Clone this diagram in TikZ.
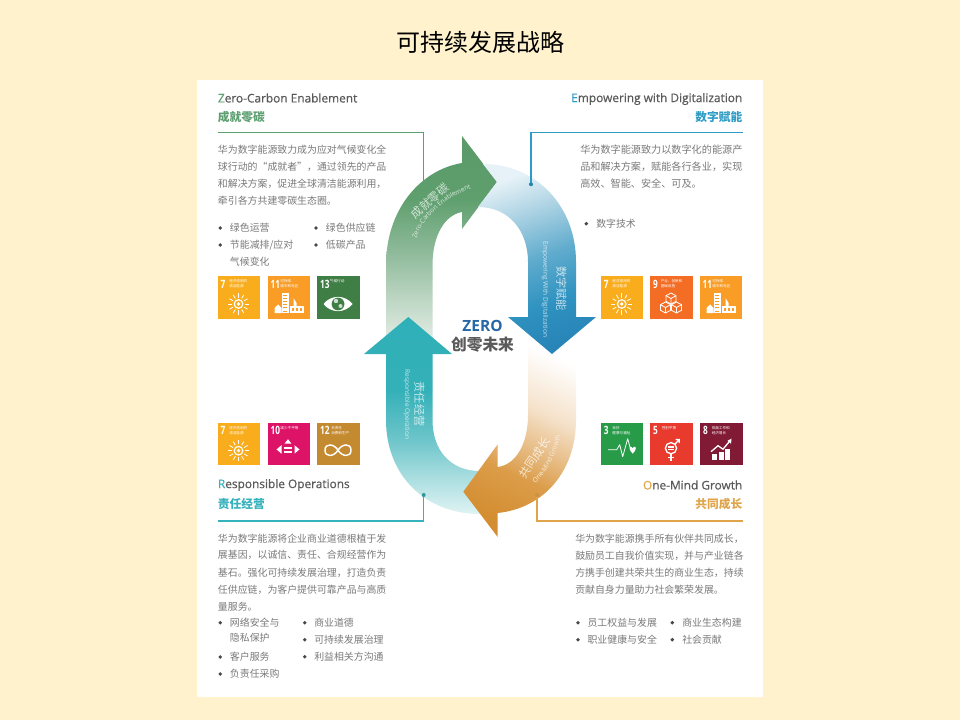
\documentclass[tikz,border=0pt]{standalone}
\usepackage{fontspec}
\usetikzlibrary{decorations.text}
\setmainfont{Noto Sans CJK SC}
\newfontfamily\enfont{Open Sans}
\newfontfamily\enhead[FakeBold=0.6]{Open Sans}
\definecolor{pagebg}{HTML}{FFF2CC}
\definecolor{cgreen}{HTML}{5E9F72}
\definecolor{cblue}{HTML}{2F9CC6}
\definecolor{cteal}{HTML}{36B2BC}
\definecolor{corange}{HTML}{E0A54A}
\definecolor{bodygray}{HTML}{7A7A7A}
\definecolor{headgray}{HTML}{5A5A5A}
\definecolor{zeroblue}{HTML}{2767A6}
\definecolor{tile7}{HTML}{F9AD1D}
\definecolor{tile11}{HTML}{F99D26}
\definecolor{tile13}{HTML}{3F7E44}
\definecolor{tile9}{HTML}{F36D25}
\definecolor{tile10}{HTML}{DD1367}
\definecolor{tile12}{HTML}{C48A30}
\definecolor{tile3}{HTML}{279B48}
\definecolor{tile5}{HTML}{E83B2E}
\definecolor{tile8}{HTML}{811A35}
\pgfdeclareverticalshading{greenflow}{100bp}{
  rgb(0bp)=(0.902,0.937,0.910);
  rgb(25bp)=(0.902,0.937,0.910);
  rgb(36bp)=(0.741,0.839,0.765);
  rgb(47bp)=(0.561,0.733,0.608);
  rgb(60bp)=(0.373,0.624,0.431);
  rgb(75bp)=(0.353,0.604,0.408);
  rgb(100bp)=(0.353,0.604,0.408)}
\pgfdeclareverticalshading{blueflow}{100bp}{
  rgb(0bp)=(0.157,0.522,0.722);
  rgb(25bp)=(0.157,0.522,0.722);
  rgb(36.5bp)=(0.184,0.573,0.753);
  rgb(50bp)=(0.373,0.671,0.804);
  rgb(63bp)=(0.659,0.816,0.886);
  rgb(75bp)=(0.902,0.949,0.969);
  rgb(100bp)=(0.902,0.949,0.969)}
\pgfdeclareverticalshading{tealflow}{100bp}{
  rgb(0bp)=(0.878,0.953,0.953);
  rgb(25bp)=(0.878,0.953,0.953);
  rgb(33.6bp)=(0.682,0.875,0.882);
  rgb(44bp)=(0.424,0.773,0.792);
  rgb(56.5bp)=(0.204,0.690,0.722);
  rgb(75bp)=(0.184,0.690,0.722);
  rgb(100bp)=(0.184,0.690,0.722)}
\pgfdeclareverticalshading{orangeflow}{100bp}{
  rgb(0bp)=(0.831,0.553,0.188);
  rgb(25bp)=(0.831,0.553,0.188);
  rgb(39bp)=(0.859,0.612,0.286);
  rgb(49bp)=(0.910,0.753,0.549);
  rgb(59bp)=(0.961,0.886,0.796);
  rgb(75bp)=(1,1,1);
  rgb(100bp)=(1,1,1)}
\newcommand\fs[1]{\fontsize{#1pt}{#1pt}\selectfont}
\tikzset{
  x=0.75pt,y=-0.75pt,
  bodytxt/.style={anchor=west,inner sep=0pt,text=bodygray,font=\fs{7.43}},
  headen/.style={inner sep=0pt,text=headgray,font=\enhead\fs{8.9}},
  headcn/.style={inner sep=0pt,font=\bfseries\fs{8.8}},
  leader/.style={line width=0.9pt},
  arrowlabel/.style={inner sep=0pt,text=white,text opacity=0.72},
  tinylabel/.style={anchor=west,inner sep=0pt,text=white,font=\fs{2.7}},
  tilenum/.style={anchor=west,inner sep=0pt,text=white,xscale=0.72,font=\enfont\bfseries\fs{8.6}},
  iconline/.style={draw=white,line width=0.6pt,line join=round},
}
% bullet
\newcommand\bul[2]{\fill[black!72] (#1,#2) circle (1.9);}
% SDG tile: name, x, y, colour, number, line 1, line 2, label x, icon
\newcommand\sdgtile[9]{%
  \begin{scope}[shift={(#2,#3)}]
    \fill[#4] (0,0) rectangle (42.5,42.5);
    \node[tilenum] (#1num) at (3,8) {#5};
    \node[tinylabel] (#1a) at (#8,5.2) {#6};
    \node[tinylabel] (#1b) at (#8,10.6) {#7};
    #9
  \end{scope}}
\newcommand\iconsun{%
  \foreach \a in {0,30,...,330}
    \draw[iconline] ({21+6.3*cos(\a)},{28+6.3*sin(\a)}) -- ({21+10.5*cos(\a)},{28+10.5*sin(\a)});
  \draw[iconline,line width=0.9pt] (21,28) circle (4.3);
  \fill[white] (21,28) circle (1.8);}
\newcommand\iconcity{%
  \fill[white] (14,17) rectangle (21,37);
  \fill[white] (22,30) rectangle (36,37);
  \fill[white] (26,22) -- (29,27) -- (29,30) -- (26,30) -- cycle;
  \fill[white] (7,37) -- (7,32) -- (10.5,28.5) -- (14,32) -- (14,37) -- cycle;
  \foreach \yy in {19.5,22.5,25.5,28.5,31.5,34.5} \fill[tile11] (15.5,\yy) rectangle (19.5,\yy+1);
  \foreach \xx in {24,28,32} \fill[tile11] (\xx,32) rectangle (\xx+2,35);}
\newcommand\iconeye{%
  \fill[white] (6.5,28) .. controls (14,18.5) and (28,18.5) .. (35.5,28) .. controls (28,37.5) and (14,37.5) .. (6.5,28) -- cycle;
  \fill[tile13] (21,28) circle (6.4);
  \fill[white!75!tile13] (19,25) circle (2.2);
  \fill[white!75!tile13] (23.5,30) circle (2);}
\newcommand\cube[2]{%
  \draw[iconline,fill=tile9] (#1,{#2-5.5}) -- ({#1+5},{#2-2.8}) -- ({#1+5},{#2+2.8}) -- (#1,{#2+5.5}) -- ({#1-5},{#2+2.8}) -- ({#1-5},{#2-2.8}) -- cycle;
  \draw[iconline] ({#1-5},{#2-2.8}) -- (#1,#2) -- ({#1+5},{#2-2.8}) (#1,#2) -- (#1,{#2+5.5});}
\newcommand\iconcubes{\cube{21}{22.5}\cube{15.5}{31.5}\cube{26.5}{31.5}}
\newcommand\iconineq{%
  \fill[white] (20.5,16.5) -- (24,21) -- (17,21) -- cycle;
  \fill[white] (9,26.7) -- (14,22.5) -- (14,31) -- cycle;
  \fill[white] (32,26.7) -- (27,22.5) -- (27,31) -- cycle;
  \fill[white] (16.5,24) rectangle (24.5,26);
  \fill[white] (16.5,28) rectangle (24.5,30);}
\newcommand\iconinf{%
  \draw[white,line width=1.1pt] (21,27.5) .. controls (17,21) and (8,20) .. (8,27.5) .. controls (8,35) and (17,34) .. (21,27.5) .. controls (25,21) and (34,20) .. (34,27.5) .. controls (34,35) and (25,34) .. (21,27.5) -- cycle;}
\newcommand\iconheart{%
  \draw[iconline] (7.5,27) -- (16,27) -- (19,22) -- (22,34) -- (27,16) -- (30,27);
  \fill[white] (32,31) .. controls (28,27) and (28.5,24) .. (30,24) .. controls (31,24) and (32,25) .. (32,26) .. controls (32,25) and (33,24) .. (34,24) .. controls (35.5,24) and (36,27) .. (32,31) -- cycle;}
\newcommand\icongender{%
  \draw[white,line width=1pt] (21,25.5) circle (5.6);
  \draw[white,line width=1pt] (25,21.5) -- (29,17) (25.5,16.8) -- (29.2,16.8) -- (29.2,20.5);
  \draw[white,line width=1pt] (21,31) -- (21,38) (18,34.8) -- (24,34.8);
  \fill[white] (18.2,23.6) rectangle (23.8,24.8);
  \fill[white] (18.2,26.2) rectangle (23.8,27.4);}
\newcommand\iconchart{%
  \fill[white] (12.3,31) rectangle (17.3,37.3);
  \fill[white] (18.6,29) rectangle (23.6,37.3);
  \fill[white] (24.8,26) rectangle (29.8,37.3);
  \draw[white,line width=1pt] (11,29) -- (18,23) -- (23,26.5) -- (30,18);
  \fill[white] (31.5,16) -- (31,21) -- (27.5,18) -- cycle;}

\begin{document}
\begin{tikzpicture}
\useasboundingbox (0,0) rectangle (960,720);
\fill[pagebg] (0,0) rectangle (960,720);
\fill[white] (197,80) rectangle (763,697);
\node[inner sep=0pt,text=black,font=\fs{18}] (title) at (480.5,42) {可持续发展战略};

% ---- loop arrows ----
\shade[shading=greenflow]
  (386,345) -- (386,265) .. controls (386,210) and (420,170) .. (462,163)
  -- (462,136) -- (497,182) -- (462,229) -- (462,212)
  .. controls (445,215) and (432.5,235) .. (432.5,265) -- (432.5,345) -- cycle;
\shade[shading=tealflow]
  (408.3,317) -- (452,354) -- (432.5,354) -- (432.5,420)
  .. controls (432.5,450) and (450,471) .. (480,471) -- (480,514)
  .. controls (425,514) and (386,475) .. (386,420) -- (386,354) -- (364,354) -- cycle;
\shade[shading=orangeflow,shading angle=-25]
  (497.7,467) .. controls (515,465) and (528,445) .. (528,415) -- (528,335) -- (576,335)
  -- (576,420) .. controls (576,470) and (545,508) .. (497.7,513)
  -- (497.7,537) -- (463.3,491.7) -- (497.7,444.3) -- cycle;
\shade[shading=blueflow,shading angle=20]
  (483,164) .. controls (535,164) and (576,205) .. (576,262) -- (576,317) -- (596,317)
  -- (552,354) -- (508,317) -- (528,317) -- (528,262)
  .. controls (528,232) and (510,207) .. (478,207) -- (497,182) -- cycle;

% ---- labels on the arrows ----
\node[arrowlabel,rotate=42,font=\fs{8.6}] (lgreen) at (430,201) {成就零碳};
\path[postaction={decorate},decoration={text along path,text align=center,
    text={|\enfont\fs{4.9}\color{white!78!cgreen}|Zero-Carbon Enablement}}]
  (414.5,247) .. controls (418,220) and (445,196) .. (479,186);
\node[arrowlabel,rotate=-90,font=\fs{8.4}] (lblue) at (561.5,288.5) {数字赋能};
\node[arrowlabel,rotate=-90,font=\enfont\fs{4.9}] (lbluee) at (545,289.5) {Empowering With Digitalization};
\node[arrowlabel,rotate=-90,font=\fs{8.4}] (lteal) at (419.3,404) {责任经营};
\node[arrowlabel,rotate=-90,font=\enfont\fs{4.9}] (lteale) at (406.7,404.5) {Responsible Operation};
\node[arrowlabel,rotate=57,font=\fs{8.6}] (lorange) at (534.5,458) {共同成长};
\path[postaction={decorate},decoration={text along path,text align=center,
    text={|\enfont\fs{4.9}\color{white!80!corange}|One-Mind Growth}}]
  (533,485) .. controls (546,476) and (556,455) .. (561,433);

% ---- centre ----
\node[inner sep=0pt,text=zeroblue,font=\enfont\bfseries\fs{11.6}] (zero) at (482.5,326) {ZERO};
\node[inner sep=0pt,text=headgray,font=\bfseries\fs{11.8}] (future) at (482.5,345) {创零未来};

% ---- top left ----
\node[headen,anchor=west] (h1) at (217.7,98) {\textcolor{cgreen}{Z}ero-Carbon Enablement};
\node[headcn,anchor=west,text=cgreen] (c1) at (217.7,116.7) {成就零碳};
\coordinate (l1a) at (217.7,132.3);
\coordinate (l1b) at (423.7,132.3);
\coordinate (l1c) at (423.7,185.3);
\draw[leader,cgreen] (l1a) -- (l1b) -- (l1c);
\fill[cgreen] (l1c) circle (2);
\node[bodytxt] (t11) at (217.7,149.3) {华为数字能源致力成为应对气候变化全};
\node[bodytxt] (t12) at (217.7,166.8) {球行动的“成就者”，通过领先的产品};
\node[bodytxt] (t13) at (217.7,184) {和解决方案，促进全球清洁能源利用，};
\node[bodytxt] (t14) at (217.7,201) {牵引各方共建零碳生态圈。};
\bul{220.3}{228}\node[bodytxt] (b11) at (229.7,228) {绿色运营};
\bul{220.3}{245}\node[bodytxt] (b12) at (229.7,245) {节能减排/应对};
\node[bodytxt] (b13) at (229.7,262) {气候变化};
\bul{316}{228}\node[bodytxt] (b14) at (325.7,228) {绿色供应链};
\bul{316}{245}\node[bodytxt] (b15) at (325.7,245) {低碳产品};
\sdgtile{a7}{217.5}{276}{tile7}{7}{经济适用的}{清洁能源}{11.5}{\iconsun}
\sdgtile{a11}{267.5}{276}{tile11}{11}{可持续}{城市和社区}{12.7}{\iconcity}
\sdgtile{a13}{317}{276}{tile13}{13}{气候行动}{}{12.7}{\iconeye}

% ---- top right ----
\node[headen,anchor=east] (h2) at (742.5,99) {\textcolor{cblue}{E}mpowering with Digitalization};
\node[headcn,anchor=east,text=cblue] (c2) at (742.5,117) {数字赋能};
\coordinate (l2a) at (742.5,132.3);
\coordinate (l2b) at (531,132.3);
\coordinate (l2c) at (531,184.3);
\draw[leader,cblue] (l2a) -- (l2b) -- (l2c);
\fill[cblue!85!black] (l2c) circle (2);
\node[bodytxt,font=\fs{7.6}] (t21) at (580,149.5) {华为数字能源致力以数字化的能源产};
\node[bodytxt,font=\fs{7.6}] (t22) at (580,167) {品和解决方案，赋能各行各业，实现};
\node[bodytxt,font=\fs{7.6}] (t23) at (580,184) {高效、智能、安全、可及。};
\bul{586.3}{223.7}\node[bodytxt] (b21) at (596,223.7) {数字技术};
\sdgtile{b7}{600.7}{276}{tile7}{7}{经济适用的}{清洁能源}{11.5}{\iconsun}
\sdgtile{b9}{650}{276}{tile9}{9}{产业、创新和}{基础设施}{10.5}{\iconcubes}
\sdgtile{b11}{699.5}{276}{tile11}{11}{可持续}{城市和社区}{12.7}{\iconcity}

% ---- lower left ----
\sdgtile{c7}{217.5}{422.7}{tile7}{7}{经济适用的}{清洁能源}{11.5}{\iconsun}
\sdgtile{c10}{267.5}{422.7}{tile10}{10}{减少不平等}{}{12.7}{\iconineq}
\sdgtile{c12}{317}{422.7}{tile12}{12}{负责任}{消费和生产}{14}{\iconinf}
\node[headen,anchor=west] (h3) at (217.7,485) {\textcolor{cteal}{R}esponsible Operations};
\node[headcn,anchor=west,text=cteal] (c3) at (217.7,504) {责任经营};
\coordinate (l3a) at (217.7,521);
\coordinate (l3b) at (423.7,521);
\coordinate (l3c) at (423.7,495);
\draw[leader,cteal] (l3a) -- (l3b) -- (l3c);
\fill[cteal!85!black] (l3c) circle (2);
\node[bodytxt] (t31) at (217.7,538.3) {华为数字能源将企业商业道德根植于发};
\node[bodytxt] (t32) at (217.7,555.3) {展基因，以诚信、责任、合规经营作为};
\node[bodytxt] (t33) at (217.7,572.6) {基石。强化可持续发展治理，打造负责};
\node[bodytxt] (t34) at (217.7,589.8) {任供应链，为客户提供可靠产品与高质};
\node[bodytxt] (t35) at (217.7,606.7) {量服务。};
\bul{220.3}{622.7}\node[bodytxt] (b31) at (229.7,622.7) {网络安全与};
\node[bodytxt] (b32) at (229.7,637.7) {隐私保护};
\bul{220.3}{657}\node[bodytxt] (b33) at (229.7,657) {客户服务};
\bul{220.3}{674}\node[bodytxt] (b34) at (229.7,674) {负责任采购};
\bul{304.7}{622.7}\node[bodytxt] (b35) at (314,622.7) {商业道德};
\bul{304.7}{639.7}\node[bodytxt] (b36) at (314,639.7) {可持续发展治理};
\bul{304.7}{656.7}\node[bodytxt] (b37) at (314,656.7) {利益相关方沟通};

% ---- lower right ----
\sdgtile{d3}{600.7}{422.7}{tile3}{3}{良好}{健康与福祉}{11.5}{\iconheart}
\sdgtile{d5}{650}{422.7}{tile5}{5}{性别平等}{}{11.5}{\icongender}
\sdgtile{d8}{700}{422.7}{tile8}{8}{体面工作和}{经济增长}{11.5}{\iconchart}
\node[headen,anchor=east] (h4) at (742.5,485) {\textcolor{corange}{O}ne-Mind Growth};
\node[headcn,anchor=east,text=corange] (c4) at (742.5,504) {共同成长};
\coordinate (l4a) at (742.5,521);
\coordinate (l4b) at (537,521);
\coordinate (l4c) at (537,495);
\draw[leader,corange] (l4a) -- (l4b) -- (l4c);
\fill[corange!90!black] (l4c) circle (2);
\node[bodytxt] (t41) at (575,538.5) {华为数字能源携手所有伙伴共同成长，};
\node[bodytxt] (t42) at (575,555.7) {鼓励员工自我价值实现，并与产业链各};
\node[bodytxt] (t43) at (575,572.5) {方携手创建共荣共生的商业生态，持续};
\node[bodytxt] (t44) at (575,589.5) {贡献自身力量助力社会繁荣发展。};
\bul{578}{622.7}\node[bodytxt] (b41) at (587.3,622.7) {员工权益与发展};
\bul{578}{639.7}\node[bodytxt] (b42) at (587.3,639.7) {职业健康与安全};
\bul{672.3}{622.7}\node[bodytxt] (b43) at (682,622.7) {商业生态构建};
\bul{672.3}{639.7}\node[bodytxt] (b44) at (682,639.7) {社会贡献};
\end{tikzpicture}
\end{document}
